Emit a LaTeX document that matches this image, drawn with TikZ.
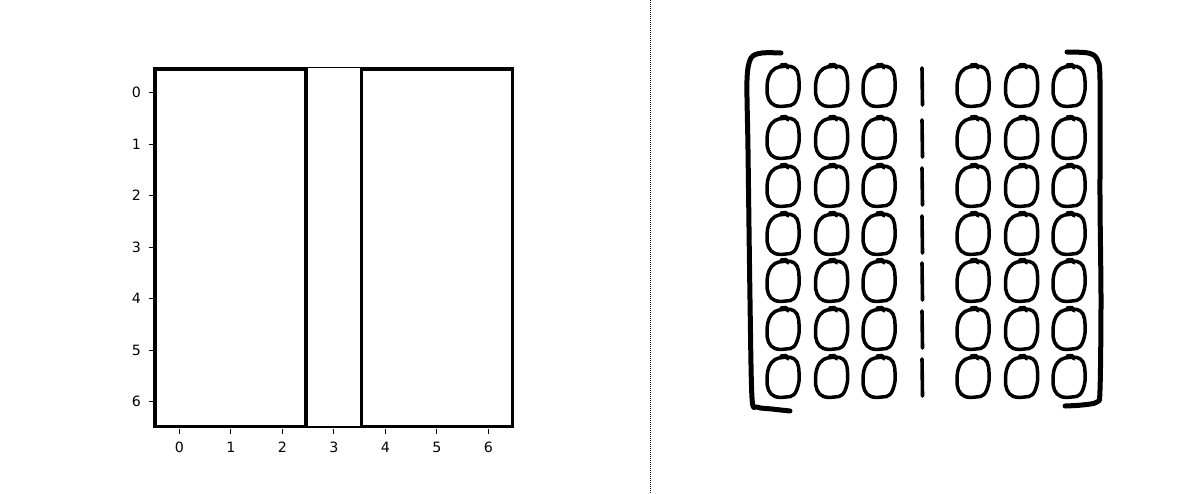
\documentclass[tikz,border=0pt]{standalone}
\usepackage{fontspec}
\setmainfont{DejaVu Sans}
\begin{document}
\begin{tikzpicture}[x=1pt,y=-1pt,
  thickbox/.style={line width=3.4pt,line join=miter},
  spine/.style={line width=1.1pt},
  tickmark/.style={line width=1.1pt},
  ticklabel/.style={inner sep=0pt,font=\fontsize{14.2}{15}\selectfont},
  pen/.style={line width=3.5pt,line cap=round,line join=round},
  hzero/.pic={
    \draw[pen] plot[smooth cycle,tension=0.65] coordinates{(0,-19.5) (-8,-17.5) (-14,-10) (-16,2) (-14.5,13) (-8,19.5) (3,20) (11,17.5) (15.5,7) (16,-5) (14,-15) (8,-19.5)};
    \draw[pen] (-2,-21) -- (3,-21.5) -- (5,-18);
  }]
\useasboundingbox (0,0) rectangle (1196,493);
\fill[white] (0,0) rectangle (1196,493);
% left plot
\draw[spine] (155,67.2) rectangle (512.3,427);
\draw[thickbox] (155,69) rectangle (305.8,426.7);
\draw[thickbox] (361.7,69) rectangle (512.3,426.7);
\foreach \i in {0,...,6}{
  \pgfmathsetmacro{\xx}{179.3+51.5*\i}
  \pgfmathsetmacro{\yy}{92.7+51.5*\i}
  \draw[tickmark] (\xx,428.5) -- (\xx,433.5);
  \node[ticklabel,anchor=base] (xl\i) at (\xx,452.5) {\i};
  \draw[tickmark] (148.5,\yy) -- (153.5,\yy);
  \node[ticklabel,anchor=base east] (yl\i) at (141,\yy+5.1) {\i};
}
% divider
\draw[line width=1pt,dash pattern=on 1pt off 1pt] (650.7,0) -- (650.7,493);
% handwritten matrix
\foreach \r [count=\k] in {86,138,186,234,281,329,377}{
  \foreach \c in {783,831.5,879,973,1021.5,1069}{
    \pic at (\c,\r) {hzero};
  }
  \draw[pen,line width=3.6pt] (922,\r-18) -- (922.5,\r+19);
}
\draw[pen,line width=5pt] plot[smooth,tension=0.5] coordinates{(781,53) (762,53) (751,58) (747,80) (748,150) (750,300) (752,398) (757,407) (772,409) (790,411)};
\draw[pen,line width=5pt] plot[smooth,tension=0.5] coordinates{(1067,52) (1088,53) (1097,59) (1100,80) (1100,200) (1101,300) (1100,390) (1097,402) (1082,405) (1065,406)};
\end{tikzpicture}
\end{document}
